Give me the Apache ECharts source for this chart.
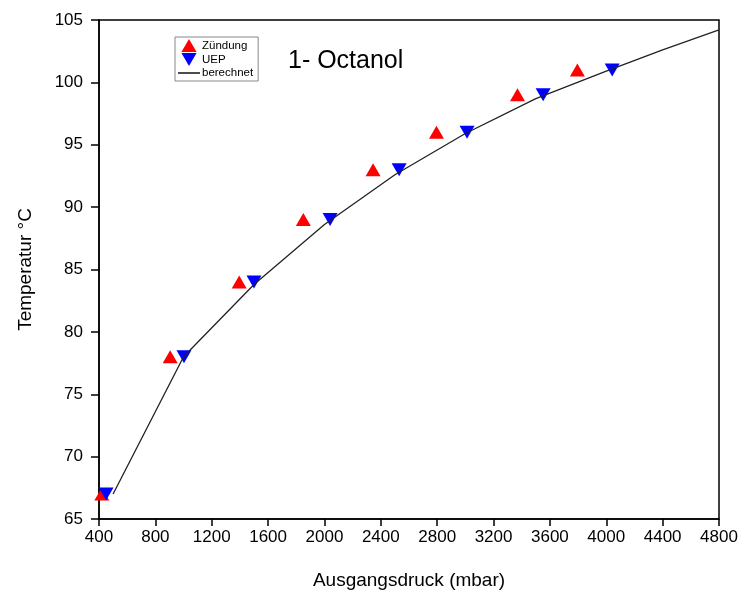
<!DOCTYPE html>
<html><head><meta charset="utf-8">
<script src="https://cdn.jsdelivr.net/npm/echarts@6/dist/echarts.min.js"></script>
<style>html,body{margin:0;padding:0;background:#fff}#c{width:744px;height:597px}</style>
</head><body><div id="c"></div>
<script>
const zuendungX = [420, 905, 1395, 1850, 2345, 2795, 3370, 3795];
const zuendungY = [67, 78, 84, 89, 93, 96, 99, 101];
const uepX = [450, 1003, 1500, 2040, 2530, 3012, 3552, 4042];
const uepY = [67, 78, 84, 89, 93, 96, 99, 101];
const calcX = [500, 1000, 1500, 2000, 2500, 3000, 3500, 4000, 4400, 4800];
const calcY = [67, 78, 83.8, 88.6, 92.6, 95.9, 98.7, 100.9, 102.6, 104.2];
const xTicks = {min: 400, max: 4800, step: 400};
const yTicks = {min: 65, max: 105, step: 5};

const zip = (a, b) => a.map((v, i) => [v, b[i]]);
const font = 'Liberation Sans, Arial, sans-serif';
const chart = echarts.init(document.getElementById('c'), null, {renderer: 'canvas'});
chart.setOption({
  animation: false,
  backgroundColor: '#fff',
  grid: {left: 99, right: 25, top: 20, bottom: 78, show: true, borderColor: '#000', borderWidth: 1.5, backgroundColor: 'transparent'},
  title: {text: '1- Octanol', left: 283, top: 44, textStyle: {fontFamily: font, fontSize: 25, fontWeight: 'normal', color: '#000'}},
  legend: {
    orient: 'vertical', left: 175, top: 37, itemGap: 1, itemWidth: 22, itemHeight: 13,
    padding: [2, 5, 2, 3], borderColor: '#888', borderWidth: 1,
    textStyle: {fontFamily: font, fontSize: 11.5, color: '#000', padding: [0, 0, 0, -3]},
    data: [
      {name: 'Zündung', icon: 'path://M7,0L14,12L0,12Z'},
      {name: 'UEP', icon: 'path://M0,0L14,0L7,12Z'},
      {name: 'berechnet', icon: 'path://M0,0L22,0L22,1.4L0,1.4Z', itemStyle: {color: '#000'}}
    ]
  },
  xAxis: {
    type: 'value', min: xTicks.min, max: xTicks.max, interval: xTicks.step,
    name: 'Ausgangsdruck (mbar)', nameLocation: 'middle', nameGap: 52,
    nameTextStyle: {fontFamily: font, fontSize: 19, color: '#000'},
    axisLine: {show: true, lineStyle: {color: '#000', width: 1.5}},
    axisTick: {show: true, inside: false, length: 7, lineStyle: {color: '#000', width: 1.5}},
    axisLabel: {fontFamily: font, fontSize: 17, color: '#000', margin: 10, formatter: v => String(v)},
    splitLine: {show: false}
  },
  yAxis: {
    type: 'value', min: yTicks.min, max: yTicks.max, interval: yTicks.step,
    name: 'Temperatur °C', nameLocation: 'middle', nameGap: 64,
    nameTextStyle: {fontFamily: font, fontSize: 19, color: '#000'},
    axisLine: {show: true, lineStyle: {color: '#000', width: 1.5}},
    axisTick: {show: true, inside: false, length: 8, lineStyle: {color: '#000', width: 1.5}},
    axisLabel: {fontFamily: font, fontSize: 17, color: '#000', margin: 16},
    splitLine: {show: false}
  },
  series: [
    {name: 'Zündung', type: 'scatter', data: zip(zuendungX, zuendungY), symbol: 'triangle', symbolSize: [15, 13], itemStyle: {color: '#ff0000', opacity: 1}, z: 3},
    {name: 'UEP', type: 'scatter', data: zip(uepX, uepY), symbol: 'triangle', symbolRotate: 180, symbolSize: [15, 13], itemStyle: {color: '#0000ff', opacity: 1}, z: 4},
    {name: 'berechnet', type: 'line', data: zip(calcX, calcY), smooth: false, showSymbol: false, symbol: 'none', lineStyle: {color: '#222', width: 1.3}, itemStyle: {color: '#222'}, z: 5}
  ]
});
</script></body></html>
